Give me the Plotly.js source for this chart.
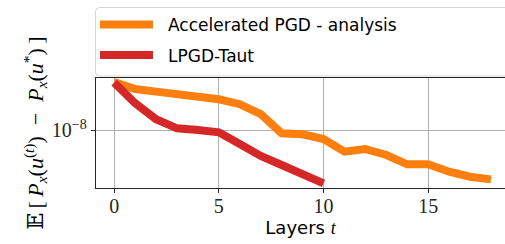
<!DOCTYPE html>
<html>
<head>
<meta charset="utf-8">
<script src="https://cdn.plot.ly/plotly-3.0.1.min.js"></script>
<style>html,body{margin:0;padding:0;background:#fff;overflow:hidden}</style>
</head>
<body>
<div id="chart" style="width:505px;height:244px"></div>
<script>
// Layers (x values)
const layersAPGD = [0,1,2,3,4,5,6,7,8,9,10,11,12,13,14,15,16,17,18];
const layersLPGD = [0,1,2,3,4,5,6,7,8,9,10];
// Expected objective gap values
const apgdValues = [3.02e-8,2.57e-8,2.42e-8,2.28e-8,2.10e-8,2.03e-8,1.81e-8,1.44e-8,9.27e-9,9.06e-9,8.13e-9,6.07e-9,6.46e-9,5.62e-9,4.54e-9,4.54e-9,3.83e-9,3.41e-9,3.21e-9];
const lpgdValues = [2.97e-8,1.85e-8,1.28e-8,1.04e-8,1.00e-8,9.48e-9,7.24e-9,5.50e-9,4.47e-9,3.61e-9,2.93e-9];
const seriesNames = ['Accelerated PGD - analysis', 'LPGD-Taut'];
const seriesColors = ['#ff7f0e', '#d62728'];
const xTickVals = [0,5,10,15];
const yTickVals = [1e-8];
const yTickText = ['10<sup>\u22128</sup>'];

const traces = [
  {x: layersAPGD, y: apgdValues, name: seriesNames[0], mode: 'lines',
   line: {color: seriesColors[0], width: 8}},
  {x: layersLPGD, y: lpgdValues, name: seriesNames[1], mode: 'lines',
   line: {color: seriesColors[1], width: 8}}
];
const serif = 'Liberation Serif, DejaVu Serif, serif';
const sans = 'DejaVu Sans, sans-serif';

// plot area in pixels: left 96, width 409, top 78, height 110
const L = 96, W = 409, T = 78, H = 110;
const px = v => (v - L) / W;
const py = v => (T + H - v) / H;

// custom legend (box, handles, labels)
const bx0 = px(95.5), bx1 = px(520), by0 = py(76), by1 = py(7.5);
const rx = 4 / W, ry = 4 / H;
const boxPath = `M${bx0 + rx},${by1} L${bx1 - rx},${by1} Q${bx1},${by1} ${bx1},${by1 - ry} L${bx1},${by0 + ry} Q${bx1},${by0} ${bx1 - rx},${by0} L${bx0 + rx},${by0} Q${bx0},${by0} ${bx0},${by0 + ry} L${bx0},${by1 - ry} Q${bx0},${by1} ${bx0 + rx},${by1} Z`;
const legendRows = [24.5, 55];
const shapes = [{type: 'path', xref: 'paper', yref: 'paper', path: boxPath,
  fillcolor: 'rgba(255,255,255,0.8)', line: {color: '#d6d6d6', width: 1}, layer: 'above'}];
const annotations = [];
seriesNames.forEach((nm, i) => {
  shapes.push({type: 'line', xref: 'paper', yref: 'paper', x0: px(100), x1: px(153),
    y0: py(legendRows[i]), y1: py(legendRows[i]), line: {color: seriesColors[i], width: 8}, layer: 'above'});
  annotations.push({xref: 'paper', yref: 'paper', x: px(166), y: py(legendRows[i] + 0.5),
    xanchor: 'left', yanchor: 'middle', showarrow: false, text: nm,
    font: {family: sans, size: 17, color: '#000'}});
});

const layout = {
  width: 505, height: 244,
  margin: {l: L, r: 505 - L - W, t: T, b: 244 - T - H},
  paper_bgcolor: '#fff', plot_bgcolor: '#fff',
  showlegend: false,
  shapes: shapes,
  annotations: annotations,
  xaxis: {range: [-0.87, 18.67], tickvals: xTickVals, ticks: 'outside', ticklen: 4,
    tickcolor: '#262626', showgrid: true, gridcolor: '#b0b0b0', gridwidth: 1,
    showline: true, linecolor: '#262626', linewidth: 1.25, mirror: true, zeroline: false,
    ticklabelstandoff: -4,
    tickfont: {family: serif, size: 20, color: '#262626'},
    title: {text: 'Layers <span style="font-family:Liberation Serif"><i>t</i></span>', font: {family: sans, size: 18, color: '#000'}, standoff: 2}},
  yaxis: {type: 'log', range: [-8.58, -7.48], tickvals: yTickVals, ticktext: yTickText,
    ticks: 'outside', ticklen: 4, tickcolor: '#262626', showgrid: true, gridcolor: '#b0b0b0',
    showline: true, linecolor: '#262626', linewidth: 1.25, zeroline: false,
    tickfont: {family: serif, size: 20, color: '#262626'},
    title: {text: '\ud835\udd3c\u2009[\u2009<i>P<sub>x</sub></i>(<i>u</i><sup>(<i>t</i>)</sup>)\u2002\u2212\u2002<i>P<sub>x</sub></i>(<i>u</i><sup>*</sup>)\u2009]',
      font: {family: serif, size: 22, color: '#000'}, standoff: 2}}
};
Plotly.newPlot('chart', traces, layout, {staticPlot: true, displayModeBar: false});
</script>
</body>
</html>
